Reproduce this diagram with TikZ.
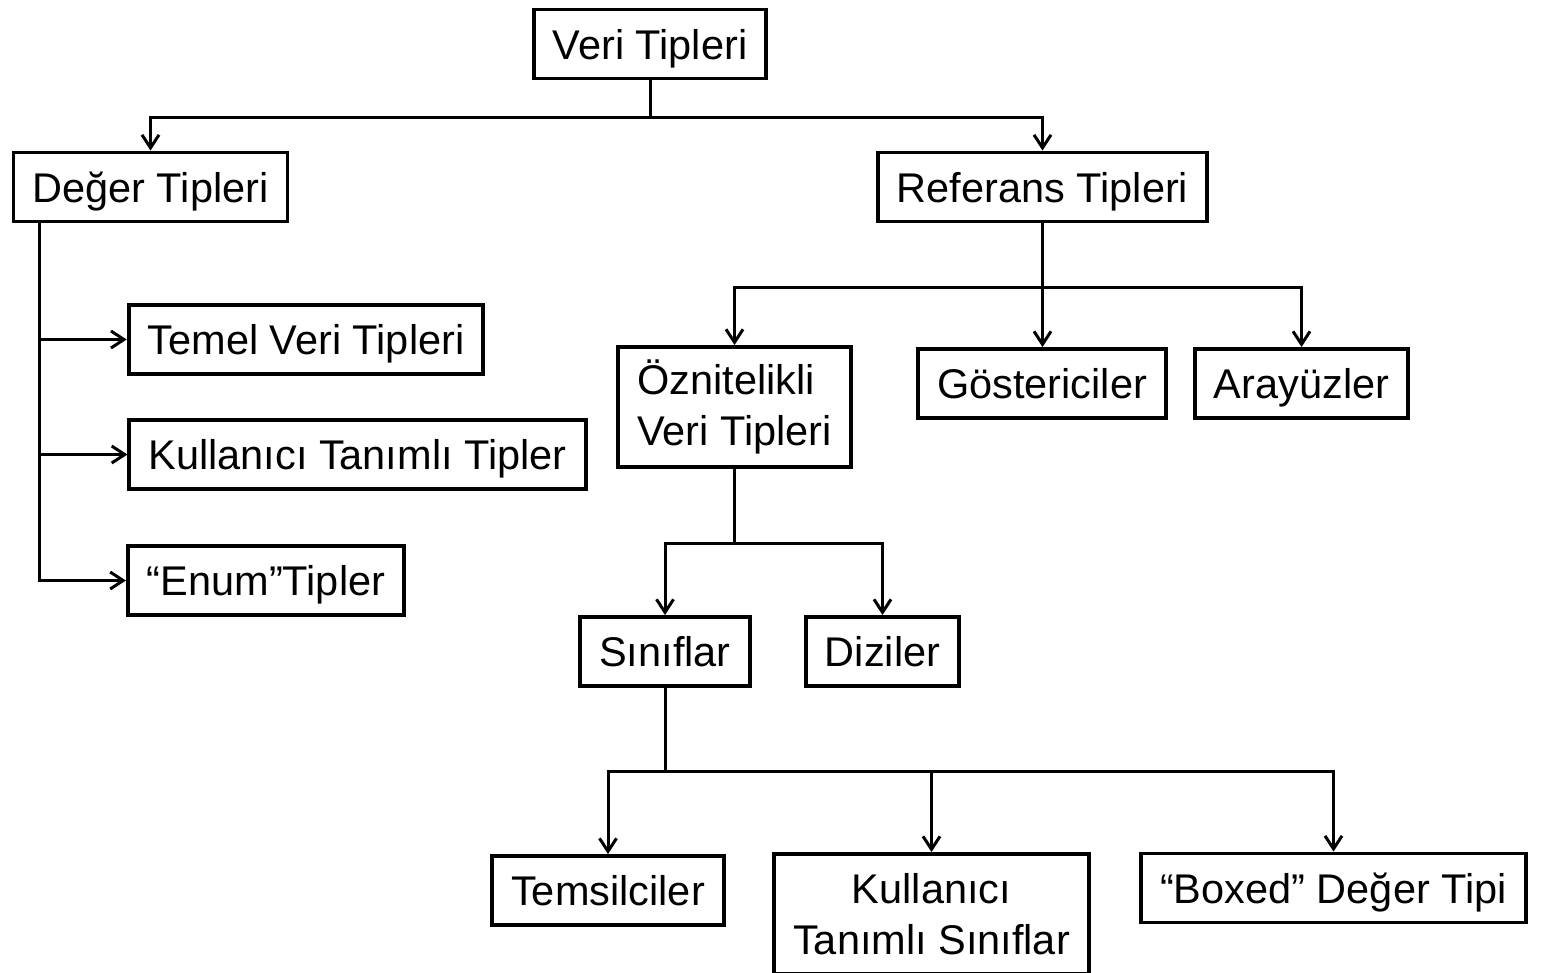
\documentclass[tikz,border=0pt]{standalone}
\usepackage{fontspec}
\setmainfont{Liberation Sans}
\usetikzlibrary{arrows.meta}

\begin{document}
\begin{tikzpicture}[x=0.01cm, y=-0.01cm,
    box/.style={draw, line width=1.1pt, rectangle, inner xsep=0.19cm, inner ysep=0pt,
        minimum height=0.69cm, text height=0.3cm, text depth=0cm,
        font=\fontsize{11.8}{14.7}\selectfont},
    twoline/.style={box, text height=, text depth=, minimum height=1.2cm},
    arr/.style={-{Straight Barb[length=0.13cm, width=0.17cm, line width=0.85pt]}, line width=0.85pt}]

   \useasboundingbox (0,0) rectangle (1546,972);

   \node[box] (veri)     at (650,44)    {Veri Tipleri};
   \node[box] (deger)    at (150.5,187) {Değer Tipleri};
   \node[box] (referans) at (1042.5,187){Referans Tipleri};

   \node[box] (temel)     at (306,339.5)   {Temel Veri Tipleri};
   \node[box] (kullanici) at (357.5,454.5) {Kullanıcı Tanımlı Tipler};
   \node[box] (enum)      at (266,580.5)   {“Enum”Tipler};

   \node[twoline, align=left] (oznitelikli) at (734.5,407) {Öznitelikli\\Veri Tipleri};
   \node[box] (gosterici) at (1042,383.5)  {Göstericiler};
   \node[box] (arayuz)    at (1301.5,383.5){Arayüzler};

   \node[box] (siniflar) at (665,651.5)   {Sınıflar};
   \node[box] (diziler)  at (882.5,651.5) {Diziler};

   \node[box] (temsilci) at (608,890.5) {Temsilciler};
   \node[twoline, align=center] (kulsinif) at (931.5,914) {Kullanıcı\\Tanımlı Sınıflar};
   \node[box] (boxed)    at (1333.5,888) {“Boxed” Değer Tipi};

   % veri tipleri
   \draw[arr] (veri.south) -- ++(0,37) -| (deger.north);
   \draw[arr] (veri.south) -- ++(0,37) -| (referans.north);

   % deger tipleri
   \draw[arr] ([xshift=0.28cm]deger.south west) |- (temel.west);
   \draw[arr] ([xshift=0.28cm]deger.south west) |- (kullanici.west);
   \draw[arr] ([xshift=0.28cm]deger.south west) |- (enum.west);

   % referans tipleri
   \draw[arr] (referans.south) -- ++(0,64) -| (oznitelikli.north);
   \draw[arr] (referans.south) -- (referans.south |- gosterici.north);
   \draw[arr] (referans.south) -- ++(0,64) -| (arayuz.north);

   \draw[arr] (oznitelikli.south) -- ++(0,75) -| (siniflar.north);
   \draw[arr] (oznitelikli.south) -- ++(0,75) -| (diziler.north);

   \draw[arr] (siniflar.south) -- ++(0,84) -| (temsilci.north);
   \draw[arr] (siniflar.south) -- ++(0,84) -| (kulsinif.north);
   \draw[arr] (siniflar.south) -- ++(0,84) -| (boxed.north);

\end{tikzpicture}
\end{document}
